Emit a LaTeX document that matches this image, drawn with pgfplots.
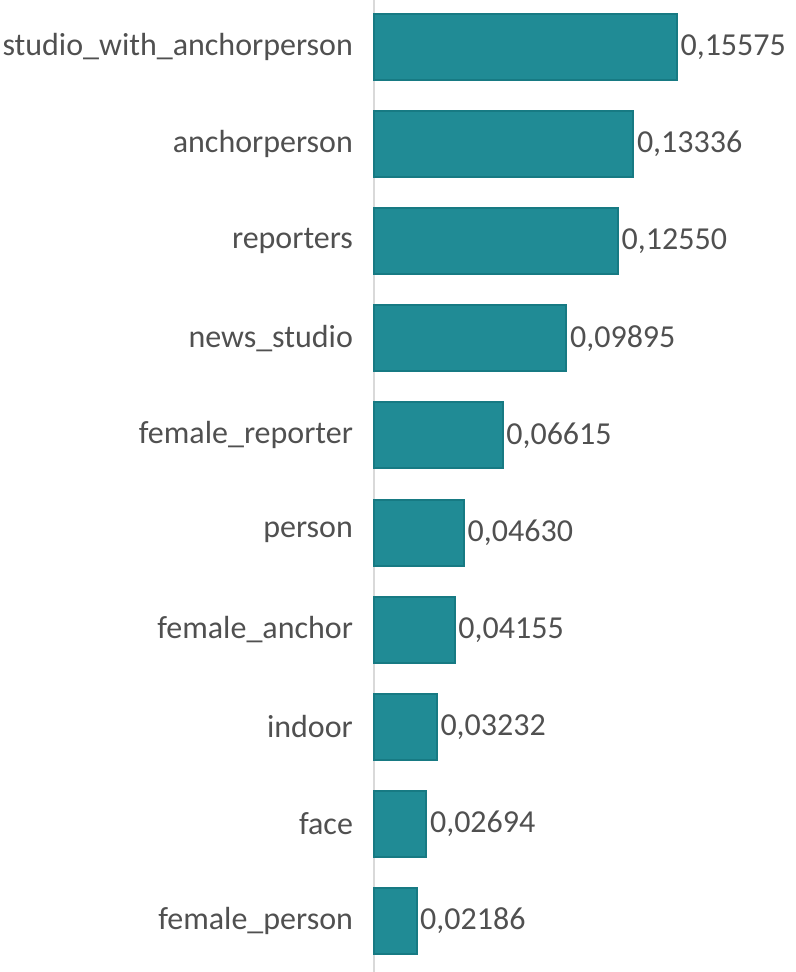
\documentclass[border=0pt]{standalone}
\usepackage{pgfplots}
\pgfplotsset{compat=1.18}
\usepackage{fontspec}
\setmainfont{Carlito}
\definecolor{barfill}{HTML}{208B95}
\definecolor{baredge}{HTML}{177A83}
\definecolor{txt}{HTML}{505050}
\definecolor{axl}{HTML}{D9D9D9}
\begin{document}
\begin{tikzpicture}
\begin{axis}[
  name=ax,
  scale only axis,
  width=316.5pt, height=729pt,
  xbar, bar width=0.68,
  xmin=0, xmax=0.217,
  ymin=-0.525, ymax=9.484,
  hide x axis,
  axis y line*=left,
  y axis line style={axl, line width=0.9pt},
  ytick={0,...,9},
  yticklabels={female\_person,face,indoor,female\_anchor,person,female\_reporter,news\_studio,reporters,anchorperson,studio\_with\_anchorperson},
  ytick style={draw=none},
  yticklabel style={font=\fontsize{24}{28}\selectfont, text=txt, xshift=-8pt},
  nodes near coords,
  every node near coord/.append style={font=\fontsize{24}{28}\selectfont, text=txt, anchor=west, inner sep=2pt},
  nodes near coords style={/pgf/number format/.cd, fixed, fixed zerofill, precision=5, use comma, assume math mode=true},
  clip=false,
]
\addplot[fill=barfill, draw=baredge, line width=1.5pt] coordinates {
(0.02186,0) (0.02694,1) (0.03232,2) (0.04155,3) (0.04630,4) (0.06615,5) (0.09895,6) (0.12550,7) (0.13336,8) (0.15575,9)};
\end{axis}
\pgfresetboundingbox
\path (ax.south west) ++(-280.5pt,0) rectangle (ax.north east);
\end{tikzpicture}
\end{document}
